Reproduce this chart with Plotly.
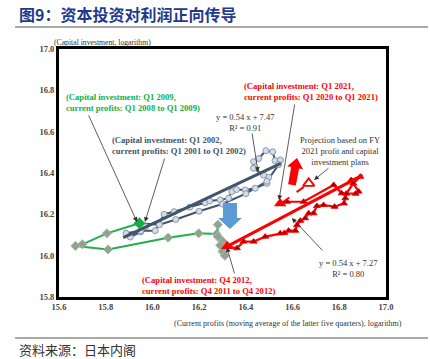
import plotly.graph_objects as go

# ---------------- data ----------------
gray_x = [15.97, 15.95, 15.905, 15.887, 15.95, 16.012, 16.05, 16.093, 16.16, 16.226, 16.245,
          16.29, 16.326, 16.34, 16.36, 16.397, 16.44, 16.49, 16.498, 16.476, 16.433, 16.433,
          16.455, 16.486, 16.515, 16.525, 16.548, 16.54, 16.49, 16.40, 16.30, 16.20, 16.10,
          16.03, 15.944]
gray_y = [16.14, 16.115, 16.09, 16.108, 16.12, 16.121, 16.20, 16.213, 16.235, 16.256, 16.265,
          16.27, 16.278, 16.31, 16.32, 16.318, 16.326, 16.35, 16.379, 16.39, 16.423, 16.455,
          16.47, 16.508, 16.503, 16.46, 16.463, 16.44, 16.36, 16.30, 16.25, 16.215, 16.175,
          16.15, 16.157]

green_x = [15.944, 15.805, 15.70, 15.67, 15.81, 16.067, 16.198, 16.275, 16.28, 16.28,
           16.30, 16.29, 16.30, 16.31, 16.32]
green_y = [16.157, 16.108, 16.055, 16.047, 16.030, 16.087, 16.108, 16.105, 16.150, 16.092,
           16.070, 16.050, 16.020, 16.000, 16.044]

red_x = [16.32, 16.362, 16.39, 16.433, 16.483, 16.547, 16.565, 16.583, 16.612, 16.619, 16.633,
         16.654, 16.669, 16.69, 16.704, 16.733, 16.78, 16.82, 16.826, 16.83, 16.86, 16.89,
         16.851, 16.883, 16.87, 16.81, 16.776, 16.647, 16.576, 16.547]
red_y = [16.045, 16.036, 16.068, 16.068, 16.092, 16.108, 16.110, 16.121, 16.121, 16.148, 16.169,
         16.181, 16.205, 16.205, 16.24, 16.245, 16.237, 16.253, 16.278, 16.30, 16.35, 16.382,
         16.366, 16.31, 16.30, 16.302, 16.342, 16.261, 16.261, 16.253]

gray_fit_x = [15.875, 16.55]
gray_fit_y = [16.087, 16.447]
red_fit_x = [16.32, 16.90]
red_fit_y = [16.045, 16.39]

proj_x = [16.555, 16.669]
proj_y = [16.256, 16.35]

x_ticks = [15.6, 15.8, 16.0, 16.2, 16.4, 16.6, 16.8, 17.0]
y_ticks = [15.8, 16.0, 16.2, 16.4, 16.6, 16.8, 17.0]

# ---------------- styles ----------------
SLATE = "#44546A"
GREEN = "#1FB04B"
RED = "#FF0000"
SERIF = "Liberation Serif"

fig = go.Figure()

fig.add_trace(go.Scatter(x=gray_x, y=gray_y, mode="lines+markers",
                         line=dict(color=SLATE, width=2),
                         marker=dict(symbol="circle", size=6, color="#D5DCE6",
                                     line=dict(color="#8497B0", width=1))))
fig.add_trace(go.Scatter(x=gray_fit_x, y=gray_fit_y, mode="lines",
                         line=dict(color=SLATE, width=3)))
fig.add_trace(go.Scatter(x=green_x, y=green_y, mode="lines+markers",
                         line=dict(color=GREEN, width=2),
                         marker=dict(symbol="diamond", size=7, color="#8FA38E",
                                     line=dict(color="#A8B8A6", width=1))))
fig.add_trace(go.Scatter(x=green_x[:1], y=green_y[:1], mode="markers",
                         marker=dict(symbol="diamond", size=9, color="#0FB040")))
fig.add_trace(go.Scatter(x=red_x, y=red_y, mode="lines+markers",
                         line=dict(color=RED, width=2.2),
                         marker=dict(symbol="triangle-up", size=6, color="#8B0A0A",
                                     line=dict(color=RED, width=1))))
fig.add_trace(go.Scatter(x=red_fit_x, y=red_fit_y, mode="lines",
                         line=dict(color=RED, width=3)))
fig.add_trace(go.Scatter(x=proj_x, y=proj_y, mode="lines",
                         line=dict(color=RED, width=2, dash="dash")))
fig.add_trace(go.Scatter(x=proj_x[1:], y=proj_y[1:], mode="markers",
                         marker=dict(symbol="triangle-up-open", size=10, color=RED,
                                     line=dict(width=1.8))))
fig.add_trace(go.Scatter(x=[red_x[0], red_x[-1]], y=[red_y[0], red_y[-1]], mode="markers",
                         marker=dict(symbol="triangle-up", size=11, color=RED)))

# blue down arrow
fig.add_shape(type="path", xref="x", yref="y",
              path="M 16.302,16.255 L 16.362,16.255 L 16.362,16.182 L 16.383,16.182 "
                   "L 16.332,16.129 L 16.281,16.182 L 16.302,16.182 Z",
              fillcolor="#5B9BD5", line=dict(width=0))
# red up arrow
fig.add_shape(type="path", xref="x", yref="y",
              path="M 16.614,16.339 L 16.628,16.422 L 16.645,16.418 L 16.619,16.473 "
                   "L 16.577,16.433 L 16.594,16.429 L 16.581,16.345 Z",
              fillcolor=RED, line=dict(width=0))

# header / footer lines
fig.add_shape(type="line", xref="paper", yref="paper", x0=-0.1346, x1=1.1284, y0=1.0887, y1=1.0887,
              line=dict(color="#8C8C8C", width=1.5))
fig.add_shape(type="line", xref="paper", yref="paper", x0=-0.1346, x1=1.1284, y0=-0.1653, y1=-0.1653,
              line=dict(color="#8C8C8C", width=1.5))

ann = []


def arrow(x, y, ax, ay):
    ann.append(dict(x=x, y=y, ax=ax, ay=ay, xref="x", yref="y", axref="x", ayref="y",
                    text="", showarrow=True, arrowhead=2, arrowsize=1.2, arrowwidth=0.8,
                    arrowcolor="#333333"))


arrow(15.934, 16.163, 15.724, 16.686)
arrow(15.968, 16.163, 16.054, 16.477)
arrow(16.542, 16.269, 16.610, 16.739)
arrow(16.452, 16.405, 16.426, 16.598)
arrow(16.692, 16.366, 16.760, 16.429)
arrow(16.319, 16.040, 16.353, 15.907)
arrow(16.597, 16.182, 16.734, 16.018)


def label(x, y, text, color, xanchor="left", bold=True, size=8.6, align="left"):
    ann.append(dict(x=x, y=y, xref="x", yref="y", text=text, showarrow=False,
                    xanchor=xanchor, yanchor="middle", align=align,
                    font=dict(family=SERIF, size=size, color=color,
                              weight="bold" if bold else "normal")))


label(15.621, 16.739, "(Capital investment: Q1 2009,<br>current profits: Q1 2008 to Q1 2009)", "#12B04A")
label(15.818, 16.533, "(Capital investment: Q1 2002,<br>current profits: Q1 2001 to Q1 2002)", SLATE)
label(16.383, 16.792, "(Capital investment: Q1 2021,<br>current profits: Q1 2020 to Q1 2021)", RED)
label(15.947, 15.858, "(Capital investment: Q4 2012,<br>current profits: Q4 2011 to Q4 2012)", RED)
label(16.396, 16.642, "y = 0.54 x + 7.47<br>R² = 0.91", "#333333", xanchor="center", bold=False,
      size=8.5, align="center")
label(16.837, 15.94, "y = 0.54 x + 7.27<br>R² = 0.80", "#333333", xanchor="center", bold=False,
      size=8.5, align="center")
label(16.803, 16.507, "Projection based on FY<br>2021 profit and capital<br>investment plans", "#333333",
      xanchor="center", bold=False, size=8.5, align="center")

ann.append(dict(x=-0.021, y=1.028, xref="paper", yref="paper", xanchor="left", yanchor="middle",
                text="(Capital investment, logarithm)", showarrow=False,
                font=dict(family=SERIF, size=7.7, color="#333333")))
ann.append(dict(x=0.700, y=-0.105, xref="paper", yref="paper", xanchor="center", yanchor="middle",
                text="(Current profits (moving average of the latter five quarters), logarithm)",
                showarrow=False, font=dict(family=SERIF, size=8, color="#333333")))
ann.append(dict(x=-0.128, y=1.141, xref="paper", yref="paper", xanchor="left", yanchor="middle",
                text="图9：资本投资对利润正向传导", showarrow=False,
                font=dict(family="Noto Sans CJK SC", size=16, color="#1F3A8C", weight="bold")))
ann.append(dict(x=-0.128, y=-0.2097, xref="paper", yref="paper", xanchor="left", yanchor="middle",
                text="资料来源：日本内阁", showarrow=False,
                font=dict(family="Noto Sans CJK SC", size=13, color="#333333")))

axis_common = dict(showgrid=False, zeroline=False, showline=True, linecolor="black", linewidth=3,
                   mirror=True, ticks="", tickfont=dict(family=SERIF, size=8.5, color="#444444",
                                                         weight="bold"))

fig.update_layout(
    width=430, height=359,
    margin=dict(l=59, r=44, t=49, b=62),
    paper_bgcolor="white", plot_bgcolor="white",
    showlegend=False,
    xaxis=dict(range=[15.6, 17.0], tickvals=x_ticks, ticktext=[f"{v:.1f}" for v in x_ticks],
               **axis_common),
    yaxis=dict(range=[15.8, 17.0], tickvals=y_ticks, ticktext=[f"{v:.1f}" for v in y_ticks],
               **axis_common),
    annotations=ann,
)

fig.write_html("out.html", config={"displayModeBar": False},
               post_script="document.body.style.margin='0';")
